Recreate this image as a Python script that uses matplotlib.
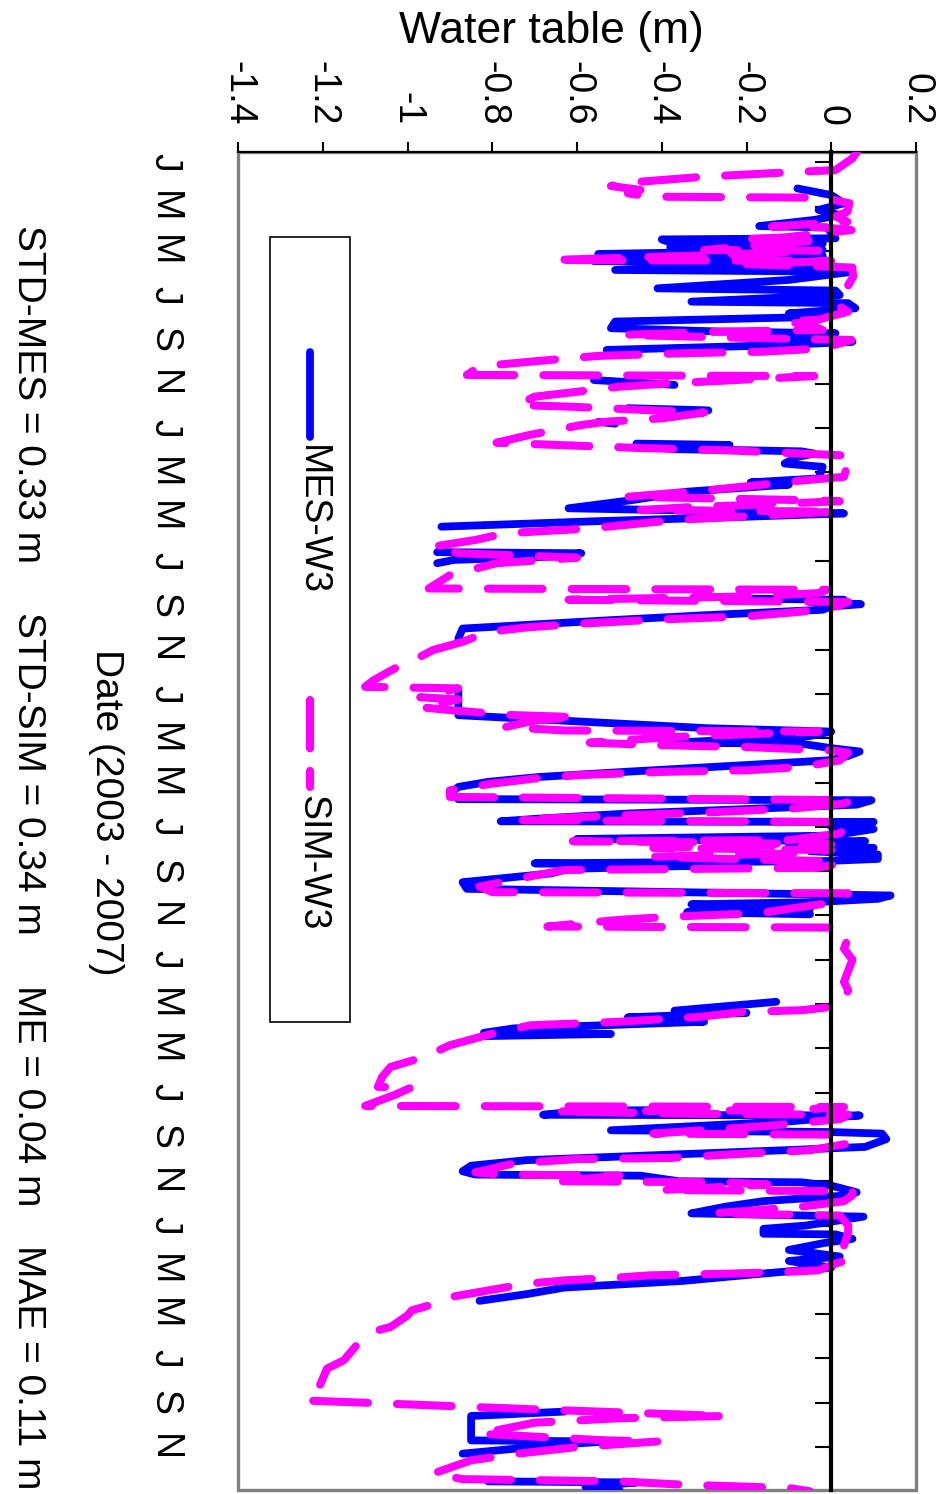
import numpy as np
import matplotlib
matplotlib.use("Agg")
import matplotlib.pyplot as plt
from matplotlib.patches import Rectangle
from matplotlib.lines import Line2D

plt.rcParams['font.family'] = ['Liberation Sans', 'DejaVu Sans']

nan = np.nan

# ---------------- data ----------------
wt_ticks = [-1.4, -1.2, -1.0, -0.8, -0.6, -0.4, -0.2, 0.0, 0.2]
wt_labels = ['-1.4', '-1.2', '-1', '-0.8', '-0.6', '-0.4', '-0.2', '0', '0.2']
month_ticks = list(range(0, 60, 2))          # months since Jan 2003
month_labels = ['J', 'M', 'M', 'J', 'S', 'N'] * 5

# measured water table (MES-W3): time in months since 1 Jan 2003, value in m
mes_t = [1.18, 1.48, 1.85, 2.15, 2.38, 2.6, 2.88, 2.94, 3.43, 3.48, 3.62, 3.66, 3.84, 3.96,
         4.14, 4.23, 4.46, 4.56, 4.86, 4.94, 5.31, 5.69, 5.79, 5.99, 6.29, 6.36, 6.59, 6.82,
         6.97, 7.19, 7.49, 7.64, 7.72, 7.95, 8.1, 8.25, 8.47, 8.6,
         9.83, 10.05, 10.2,
         11.1, 11.2, 11.3,
         11.72, 11.8, 11.9,
         12.7, 12.76, 12.95, 13.0, 13.05, 13.15, 13.3, 13.6, 13.75, 14.27, 14.45, 14.55, 14.87,
         15.25, 15.62, 15.85, 16.0, 16.2, 16.45, 16.6,
         17.6, 17.65, 17.8, 17.95, 18.1, 18.2,
         19.7, 19.75, 19.85, 19.95, 20.05, 20.2, 20.45, 20.7, 21.05, 21.5, 21.6,
         23.8, 24.96, 25.1, 25.55, 25.7, 25.9, 26.2, 26.25, 26.45, 26.6, 26.8, 26.99, 27.2,
         27.5, 27.75, 27.97, 28.2, 28.5, 28.75, 28.8, 29.0, 29.25, 29.4, 29.63, 29.75, 29.78,
         30.0, 30.1, 30.4, 30.55, 30.65, 30.9, 30.95, 31.1, 31.25, 31.45, 31.55, 31.65, 31.75,
         31.9, 32.1, 32.5, 32.8, 33.1, 33.25, 33.4, 33.5, 33.7, 33.85, 33.95, 34.1,
         37.9, 38.3, 38.4, 38.6, 38.8, 39.1, 39.3, 39.35, 39.45, 39.6,
         42.78, 42.82, 43.0, 43.03, 43.3, 43.7, 43.78, 43.85, 44.1, 44.45, 44.6, 44.85, 45.05,
         45.3, 45.55, 45.7, 45.75, 46.0, 46.05, 46.2, 46.5, 46.65, 46.9, 47.15, 47.45, 47.6,
         47.85, 48.0, 48.15, 48.37, 48.4, 48.6, 48.8, 49.1, 49.4, 49.6, 49.9, 50.2, 50.5,
         50.8, 51.1, 51.4, 51.5,
         56.4, 56.6, 57.0, 57.7, 57.75, 57.9, 58.3, 58.4,
         59.55, 59.6, 59.8, 59.95]
mes_v = [-0.08, 0.0, 0.03, -0.03, 0.02, -0.04, -0.17, -0.01, 0.01, -0.40, -0.38, -0.02, -0.38, -0.02,
         -0.55, -0.02, -0.56, 0.0, -0.51, 0.05, -0.10, -0.41, 0.01, 0.02, -0.33, 0.04, 0.057, -0.10,
         -0.01, -0.51, -0.52, -0.26, 0.01, -0.09, 0.05, -0.11, -0.53, nan,
         -0.56, -0.37, nan,
         -0.48, -0.29, nan,
         -0.55, -0.51, nan,
         -0.46, -0.24, -0.38, -0.20, -0.07, -0.04, -0.08, -0.11, -0.02, -0.03, -0.19, -0.10, -0.34,
         -0.47, -0.62, 0.03, -0.20, -0.55, -0.92, nan,
         -0.93, -0.59, -0.66, -0.89, -0.93, nan,
         -0.19, 0.03, -0.05, 0.07, 0.0, -0.02, -0.30, -0.55, -0.87, -0.88, nan,
         -0.88, -0.88, -0.74, -0.29, 0.0, -0.05, -0.37, -0.07, 0.0, 0.067, 0.04, 0.0, -0.19,
         -0.47, -0.69, -0.81, -0.88, -0.90, -0.88, 0.095, 0.06, -0.27, -0.48, -0.69, -0.78, 0.10,
         0.0, 0.10, 0.0, -0.60, 0.08, -0.10, 0.10, -0.05, 0.11, 0.11, -0.02, -0.70, -0.30,
         -0.62, -0.66, -0.87, -0.86, 0.14, 0.11, -0.04, -0.33, -0.05, -0.34, -0.05, nan,
         -0.13, -0.37, -0.20, -0.48, -0.30, -0.75, -0.82, -0.52, -0.82, nan,
         -0.35, -0.59, -0.68, 0.067, -0.10, -0.52, 0.0, 0.12, 0.13, 0.08, -0.11, -0.45, -0.72,
         -0.85, -0.87, -0.84, -0.45, -0.36, -0.07, 0.0, 0.06, 0.03, -0.16, -0.25, -0.33, 0.076,
         -0.01, -0.06, -0.16, -0.16, 0.01, 0.05, -0.02, -0.10, 0.02, -0.10, 0.0, -0.18, -0.35,
         -0.63, -0.72, -0.83, nan,
         -0.63, -0.85, -0.85, -0.85, -0.53, -0.65, -0.87, nan,
         -0.81, -0.46, -0.58, -0.50]

# simulated water table (SIM-W3)
sim_t = [-0.45, -0.18, 0.35, 0.5, 0.65, 0.95, 1.07, 1.25, 1.4, 1.55, 1.6, 1.85, 2.23, 2.45,
         2.68, 2.9, 2.94, 3.06, 3.39, 3.48, 3.51, 3.73, 3.96, 3.99, 4.2, 4.41, 4.45, 4.6, 4.75,
         4.9, 5.16, 5.54, 5.91, 6.21, 6.52, 6.74, 7.1, 7.19, 7.34, 7.57, 7.64, 7.79, 7.87, 7.95,
         8.02, 8.4, 8.55, 8.62, 8.74, 8.85, 9.07, 9.22, 9.6, 9.65, 9.98, 10.13, 10.36, 10.58,
         10.96, 11.03, 11.3, 11.56, 11.71, 11.86, 12.3, 12.66, 12.9, 13.0, 13.25, 13.52, 14.2,
         14.42, 14.57, 14.8, 15.1, 15.25, 15.3, 15.47, 15.55, 15.7, 15.77, 16.15, 16.53, 16.75,
         17.05, 17.35, 17.65, 17.85, 18.1, 18.64, 19.24, 19.3, 19.45, 19.6, 19.75, 19.8, 19.85,
         20.0, 20.2, 20.5, 20.65, 20.85, 21.0, 21.2, 21.65, 22.02, 22.32, 22.85, 23.38, 23.68,
         23.75, 24.15, 24.25, 24.6, 24.75, 24.95, 25.05, 25.2, 25.5, 25.65, 25.7, 25.95, 26.2,
         26.3, 26.4, 26.55, 26.65, 27.0, 27.3, 27.45, 27.52, 27.67, 27.82, 28.05, 28.35, 28.65,
         28.8, 28.95, 29.17, 29.33, 29.47, 29.62, 29.7, 29.78, 30.0, 30.3, 30.6, 30.65, 30.7,
         30.8, 30.95, 31.05, 31.2, 31.35, 31.45, 31.55, 31.65, 31.85, 31.95, 32.2, 32.7, 32.95,
         33.0, 33.2, 33.4, 33.7, 33.9, 34.05, 34.2, 34.5, 34.55, 35.0, 35.5, 36.0, 36.5, 37.0,
         37.38, 37.83, 38.13, 38.28, 38.36, 38.58, 38.81, 38.96, 39.34, 39.86, 40.39, 40.84,
         41.29, 41.74, 41.76, 42.1, 42.6, 42.65, 42.8, 42.85, 42.95, 43.0, 43.2, 43.5, 43.85,
         43.9, 44.3, 44.6, 44.75, 44.95, 45.0, 45.2, 45.6, 45.7, 45.75, 46.0, 46.05, 46.15,
         46.4, 46.45, 46.64, 46.9, 47.15, 47.3, 47.45, 47.55, 48.0, 48.3, 48.9, 49.2, 49.5,
         49.72, 50.02, 50.1, 50.17, 50.25, 50.33, 50.48, 50.63, 51.0, 51.23, 51.45, 51.83,
         52.06, 52.58, 52.73, 53.4, 54.08, 54.46, 55.36, 55.9, 56.0, 56.3, 56.6, 56.7, 56.9,
         57.4, 57.7, 57.75, 58.0, 58.3, 58.6, 59.2, 59.45, 59.55, 59.7, 59.85, 60.0]
sim_v = [0.06, 0.05, 0.01, -0.15, -0.30, -0.50, -0.52, -0.45, -0.48, -0.43, -0.02, 0.043, 0.038, 0.01,
         0.038, -0.14, -0.02, 0.048, -0.11, -0.22, -0.02, -0.17, -0.30, -0.03, -0.30, -0.66, 0.0, -0.20, 0.05,
         0.05, 0.052, 0.04, 0.05, 0.04, 0.02, 0.04, -0.03, -0.11, -0.05, -0.02, -0.25, -0.49, -0.33, -0.15,
         0.048, -0.02, -0.16, -0.35, -0.55, -0.62, -0.75, -0.83, -0.86, -0.04, -0.38, -0.50, -0.60, -0.70,
         -0.74, -0.62, -0.30, -0.40, -0.53, -0.59, -0.71, -0.79, -0.45, -0.25, 0.05, 0.04, 0.03,
         -0.10, -0.17, -0.29, -0.48, -0.07, 0.02, -0.19, -0.32, -0.45, 0.01, -0.37, -0.57, -0.77,
         -0.84, -0.94, -0.88, -0.60, -0.79, -0.90, -0.95, -0.01, -0.03, -0.20, -0.62, -0.30, 0.04,
         0.02, -0.02, -0.20, -0.42, -0.61, -0.72, -0.81, -0.87, -0.94, -0.97, -1.03, -1.08, -1.10,
         -0.88, -0.97, -0.88, -0.97, -0.89, -0.76, -0.60, -0.70, -0.77, -0.63, -0.03, -0.38, -0.57,
         -0.43, -0.20, 0.0, 0.04, 0.02, -0.07, -0.20, -0.40, -0.60, -0.70, -0.80, -0.90, -0.90,
         0.05, 0.03, -0.09, -0.27, -0.47, -0.67, -0.74, 0.0, 0.04, 0.02, -0.10, -0.61, -0.30,
         0.0, -0.42, 0.0, -0.10, -0.42, -0.25, 0.0, 0.02, -0.03, -0.63, -0.70, -0.83, -0.80,
         0.04, 0.03, 0.01, -0.10, -0.17, -0.37, -0.50, -0.67, 0.02, 0.04, 0.03, 0.05, 0.04, 0.03,
         0.04, 0.03, 0.0, -0.07, -0.21, -0.31, -0.51, -0.71, -0.80, -0.90, -0.96, -1.04,
         -1.06, -1.07, -0.99, -1.03, -1.10, 0.03, -0.10, -0.65, -0.35, 0.04, 0.02, -0.15, -0.42,
         0.03, 0.04, -0.05, -0.20, -0.38, -0.60, -0.75, -0.84, -0.78, -0.50, -0.65, -0.25, -0.15,
         -0.40, 0.05, 0.05, 0.03, -0.07, -0.17, -0.28, 0.02, 0.04, 0.04, 0.03, 0.05, 0.05,
         0.01, -0.03, -0.11, -0.24, -0.43, -0.49, -0.63, -0.72, -0.83, -0.90, -0.92, -0.99,
         -1.00, -1.04, -1.07, -1.12, -1.15, -1.19, -1.21, -1.24, -1.10, -0.70, -0.25, -0.50, -0.70,
         -0.83, -0.53, -0.41, -0.60, -0.74, -0.85, -0.94, -0.87, -0.50, -0.35, -0.10, -0.05]

stats = ['STD-MES = 0.33 m', 'STD-SIM = 0.34 m', 'ME = 0.04 m', 'MAE = 0.11 m']
series_names = ['MES-W3', 'SIM-W3']

# ---------------- layout ----------------
W, H = 941, 1494
fig = plt.figure(figsize=(W / 100, H / 100), dpi=100)
L, R, T, B = 238, 916, 152, 1490
ax = fig.add_axes([L / W, 1 - B / H, (R - L) / W, (B - T) / H])
ax.set_xlim(-1.4, 0.2)
ax.set_ylim(59.94, -0.465)

BLUE = '#0000ff'
MAG = '#ff00ff'
LW_B = 5.6
LW_M = 5.8
ax.plot(mes_v, mes_t, color=BLUE, lw=LW_B, solid_capstyle='round',
        solid_joinstyle='round', zorder=2)
ax.plot(sim_v, sim_t, color=MAG, lw=LW_M, dashes=(6.8, 3.6), dash_capstyle='round',
        dash_joinstyle='round', zorder=3)

# frame
ax.add_patch(Rectangle((0, 0), 1, 1, transform=ax.transAxes, fill=False,
                       edgecolor='#808080', lw=2.4, clip_on=False, zorder=1))
ax.spines['right'].set_visible(False)
ax.spines['bottom'].set_visible(False)
ax.spines['top'].set_color('black')
ax.spines['top'].set_linewidth(1.5)
ax.spines['left'].set_position(('data', 0))
ax.spines['left'].set_color('black')
ax.spines['left'].set_linewidth(3)
ax.spines['left'].set_zorder(4)

# value axis (top)
ax.xaxis.set_ticks_position('top')
ax.set_xticks(wt_ticks)
ax.set_xticklabels(wt_labels, rotation=270, fontsize=27)
ax.tick_params(axis='x', direction='out', length=7, width=1.5, pad=12, colors='black')

# date axis (ticks on zero line, labels at far left)
ax.yaxis.set_ticks_position('left')
ax.set_yticks(month_ticks)
ax.set_yticklabels(month_labels, rotation=270, fontsize=27)
for lbl in ax.get_yticklabels():
    lbl.set_va('center')
ax.tick_params(axis='y', direction='out', length=11.5, width=1.5, pad=456)

# titles / labels
fig.text(551 / W, 1 - 32 / H, 'Water table (m)', ha='center', va='center', fontsize=32)
fig.text(106 / W, 1 - 812 / H, 'Date (2003 - 2007)', rotation=270, ha='center',
         va='center', fontsize=28)
for s, y0 in zip(stats, [225, 612, 985, 1245]):
    fig.text(28 / W, 1 - y0 / H, s, rotation=270, ha='center', va='top', fontsize=28)

# legend (drawn rotated by hand)
fig.add_artist(Rectangle((270 / W, 1 - 1022 / H), 80 / W, 785 / H, transform=fig.transFigure,
                         fill=False, edgecolor='black', lw=1.2))
fig.add_artist(Line2D([310 / W, 310 / W], [1 - 352 / H, 1 - 437 / H], transform=fig.transFigure,
                      color=BLUE, lw=LW_B, solid_capstyle='round'))
fig.text(312 / W, 1 - 445 / H, series_names[0], rotation=270, ha='center', va='top', fontsize=27)
fig.add_artist(Line2D([310 / W, 310 / W], [1 - 700 / H, 1 - 787 / H], transform=fig.transFigure,
                      color=MAG, lw=LW_M, dashes=(6.0, 2.8), dash_capstyle='round'))
fig.text(312 / W, 1 - 795 / H, series_names[1], rotation=270, ha='center', va='top', fontsize=27)

fig.savefig('out.png', dpi=100)
